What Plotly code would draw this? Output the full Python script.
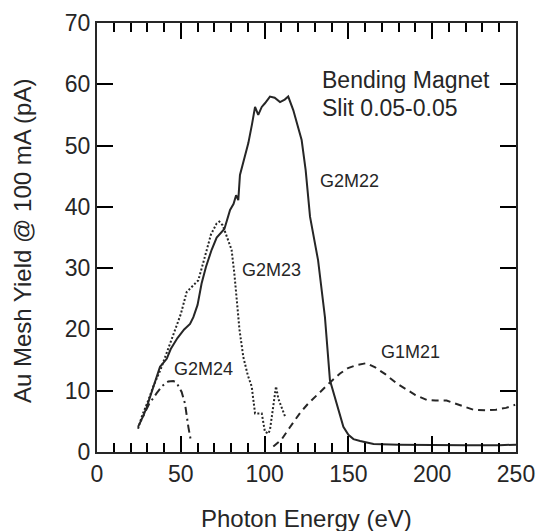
import plotly.graph_objects as go

# G2M22 (solid)
g2m22_e = [26, 27.5, 29.5, 33, 37.6, 41.6, 44, 48, 52, 55.5, 57.5, 60, 62.4, 65, 68.4, 71.4, 74, 76, 79.4, 81.5, 83, 84.3, 85.3, 87.5, 89.3, 90.3, 92.5, 94.3, 96.2, 98.3, 100.2, 103.2, 106, 109.2, 112, 114.1, 117.1, 119.5, 122.1, 124.5, 127.1, 131.9, 136, 139, 141, 143, 147, 150, 153, 157, 161, 165, 180, 200, 220, 240, 250]
g2m22_y = [5.0, 5.8, 7.2, 10, 13.9, 15.2, 16.8, 18.6, 20, 20.9, 22, 24, 27.5, 30.2, 33, 35, 35.8, 36.4, 39.5, 40.5, 41.9, 41.1, 45.2, 47.5, 49.8, 50.4, 53.5, 56.3, 55, 56.3, 56.9, 58, 57.8, 57.1, 57.5, 58, 55.8, 53.5, 50.9, 46, 38.4, 31.3, 22, 11.7, 9.8, 8.2, 4.1, 2.8, 2.1, 1.8, 1.5, 1.3, 1.2, 1.1, 1.1, 1.1, 1.2]

# G2M23 (dotted)
g2m23_e = [24.5, 27, 30, 33.6, 38, 42, 45.5, 50, 53.5, 55.5, 58, 60.4, 63, 65.4, 68, 71.4, 73, 75, 77.4, 80.3, 82, 83.3, 85, 87.3, 90, 92.3, 94.3, 96, 98.3, 100.2, 102.2, 103.2, 105, 106.8, 108.2, 110, 112.2]
g2m23_y = [3.8, 6, 8, 10.7, 13.5, 16.5, 18.8, 22.5, 26.1, 26.7, 27.3, 28, 30.5, 33, 35.5, 37.3, 37.6, 37, 35.1, 33, 29, 24.8, 20, 15.5, 12.5, 10.7, 6.3, 6.3, 6.3, 3.3, 3, 3.6, 7, 10.7, 8.7, 7.5, 5.8]

# G2M24 (dash-dot)
g2m24_e = [24.5, 27.6, 31, 35.6, 39, 42.5, 45.5, 47.5, 50.5, 52.5, 53.5, 54.5, 55.9]
g2m24_y = [4.1, 5.8, 7.8, 9.6, 10.8, 11.5, 11.6, 11.3, 9.8, 7.9, 5.8, 4.1, 2.0]

# G1M21 (dashed)
g1m21_e = [105.2, 110, 115, 121.5, 126, 133, 140, 145, 149.8, 155, 160.8, 166, 172, 178.8, 185.5, 190, 196.7, 202, 208.6, 215, 220, 224.5, 232.5, 238, 244, 249.5]
g1m21_y = [0.9, 2.0, 4.0, 6.5, 7.9, 9.8, 11.6, 12.8, 13.7, 14.2, 14.5, 13.8, 12.7, 11.2, 10.1, 9.3, 8.5, 8.4, 8.4, 7.8, 7.3, 6.9, 6.8, 6.9, 7.2, 7.7]

X_RANGE = [0, 250]
Y_RANGE = [0, 70]
X_TITLE = "Photon Energy (eV)"
Y_TITLE = "Au Mesh Yield @ 100 mA (pA)"

INK = "#262626"
TICK = "black"
FONT = "Liberation Sans, Arial, Helvetica, sans-serif"

fig = go.Figure()
fig.add_trace(go.Scatter(x=g2m22_e, y=g2m22_y, mode="lines", name="G2M22",
                         line=dict(color=INK, width=2)))
fig.add_trace(go.Scatter(x=g2m23_e, y=g2m23_y, mode="lines", name="G2M23",
                         line=dict(color=INK, width=2, dash="2px,2px")))
fig.add_trace(go.Scatter(x=g2m24_e, y=g2m24_y, mode="lines", name="G2M24",
                         line=dict(color=INK, width=2, dash="8px,4px,2px,4px")))
fig.add_trace(go.Scatter(x=g1m21_e, y=g1m21_y, mode="lines", name="G1M21",
                         line=dict(color=INK, width=2, dash="7px,5px")))

labels = [
    ("G2M22", 150.4, 44.2, "center", 18),
    ("G2M23", 104.4, 29.7, "center", 18),
    ("G2M24", 63.8, 13.5, "center", 18),
    ("G1M21", 186.8, 16.3, "center", 18),
    ("Bending Magnet", 133, 60.7, "left", 23),
    ("Slit 0.05-0.05", 133, 56.1, "left", 23),
]
for txt, xx, yy, anc, sz in labels:
    fig.add_annotation(x=xx, y=yy, text=txt, showarrow=False, xanchor=anc, yanchor="middle",
                       font=dict(family=FONT, size=sz, color=INK))

# axis titles
fig.add_annotation(x=0.5, y=-0.155, xref="paper", yref="paper", text=X_TITLE, showarrow=False,
                   xanchor="center", yanchor="middle", font=dict(family=FONT, size=24, color=INK))
fig.add_annotation(x=-0.179, y=0.494, xref="paper", yref="paper", text=Y_TITLE, showarrow=False,
                   textangle=-90, xanchor="center", yanchor="middle",
                   font=dict(family=FONT, size=24, color=INK))

common = dict(showgrid=False, zeroline=False, showline=True, linecolor=INK, linewidth=2,
              mirror="ticks", ticks="inside", ticklen=16, tickwidth=2, tickcolor=TICK,
              automargin=False)

fig.update_layout(
    template="simple_white",
    width=538, height=531,
    margin=dict(l=97, r=22, t=23, b=79),
    paper_bgcolor="white", plot_bgcolor="white",
    showlegend=False,
    font=dict(family=FONT, color=INK),
    xaxis=dict(range=X_RANGE, dtick=50,
               minor=dict(dtick=10, ticks="inside", ticklen=9, tickwidth=2, tickcolor=TICK),
               tickfont=dict(size=23, family=FONT, color=INK), **common),
    yaxis=dict(range=Y_RANGE, dtick=10,
               tickfont=dict(size=23, family=FONT, color=INK), **common),
)

fig.write_html("out.html")
